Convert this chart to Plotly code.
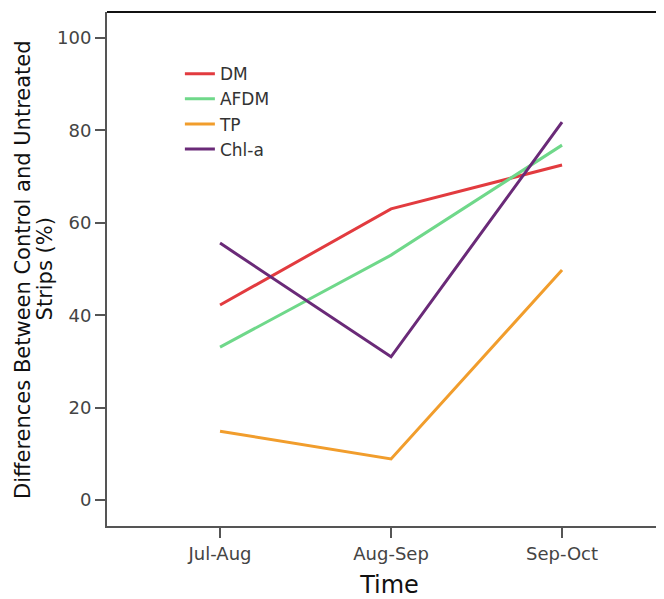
import plotly.graph_objects as go

# periods on the x axis
periods = ["Jul-Aug", "Aug-Sep", "Sep-Oct"]

# % difference between control and untreated strips
dm = [42.2, 63.0, 72.5]
afdm = [33.1, 53.0, 76.8]
tp = [14.9, 8.9, 49.8]
chla = [55.6, 31.0, 81.8]

series = [
    ("DM", dm, "#e23b3f"),
    ("AFDM", afdm, "#6fd88a"),
    ("TP", tp, "#f19d2c"),
    ("Chl-a", chla, "#6a2a78"),
]

fig = go.Figure()
for name, vals, color in series:
    fig.add_trace(
        go.Scatter(
            x=[0, 1, 2],
            y=vals,
            name=name,
            mode="lines",
            line=dict(color=color, width=3),
        )
    )

axis_font = dict(family="DejaVu Sans", size=18, color="#444444")

# page body has an 8px margin, so the figure sits 8px right/down
fig.update_layout(
    width=664,
    height=599,
    margin=dict(l=99, r=0, t=4, b=81),
    paper_bgcolor="white",
    plot_bgcolor="white",
    font=dict(family="DejaVu Sans", color="#222222"),
    showlegend=True,
    legend=dict(
        x=0.129,
        y=0.914,
        xanchor="left",
        yanchor="top",
        bgcolor="rgba(0,0,0,0)",
        font=dict(family="DejaVu Sans", size=17, color="#333333"),
        tracegroupgap=0,
        itemwidth=30,
    ),
    xaxis=dict(
        tickmode="array",
        tickvals=[0, 1, 2],
        ticktext=periods,
        range=[-0.661, 2.643],
        showgrid=False,
        zeroline=False,
        showline=True,
        linecolor="#555555",
        linewidth=2,
        mirror=False,
        ticks="outside",
        ticklen=10,
        tickwidth=2,
        tickcolor="#555555",
        tickfont=axis_font,
        title=dict(text="Time", font=dict(family="DejaVu Sans", size=24, color="#111111"), standoff=14),
    ),
    yaxis=dict(
        range=[-5.6, 105.6],
        tickvals=[0, 20, 40, 60, 80, 100],
        showgrid=False,
        zeroline=False,
        showline=True,
        linecolor="#555555",
        linewidth=2,
        ticks="outside",
        ticklen=10,
        tickwidth=2,
        tickcolor="#555555",
        tickfont=axis_font,
    ),
)

# two-line y title, set tight like the original
title_lines = ["Differences Between Control and Untreated", "Strips (%)"]
for xpos, line in zip([-0.1487, -0.1090], title_lines):
    fig.add_annotation(
        text=line, xref="paper", yref="paper", x=xpos, y=0.5,
        xanchor="center", yanchor="middle", textangle=-90, showarrow=False,
        font=dict(family="DejaVu Sans", size=21, color="#111111"),
    )

# thin top frame line
fig.add_shape(
    type="line", xref="paper", yref="paper",
    x0=0, x1=1, y0=1, y1=1,
    line=dict(color="#111111", width=2),
)

fig.write_html("out.html")
